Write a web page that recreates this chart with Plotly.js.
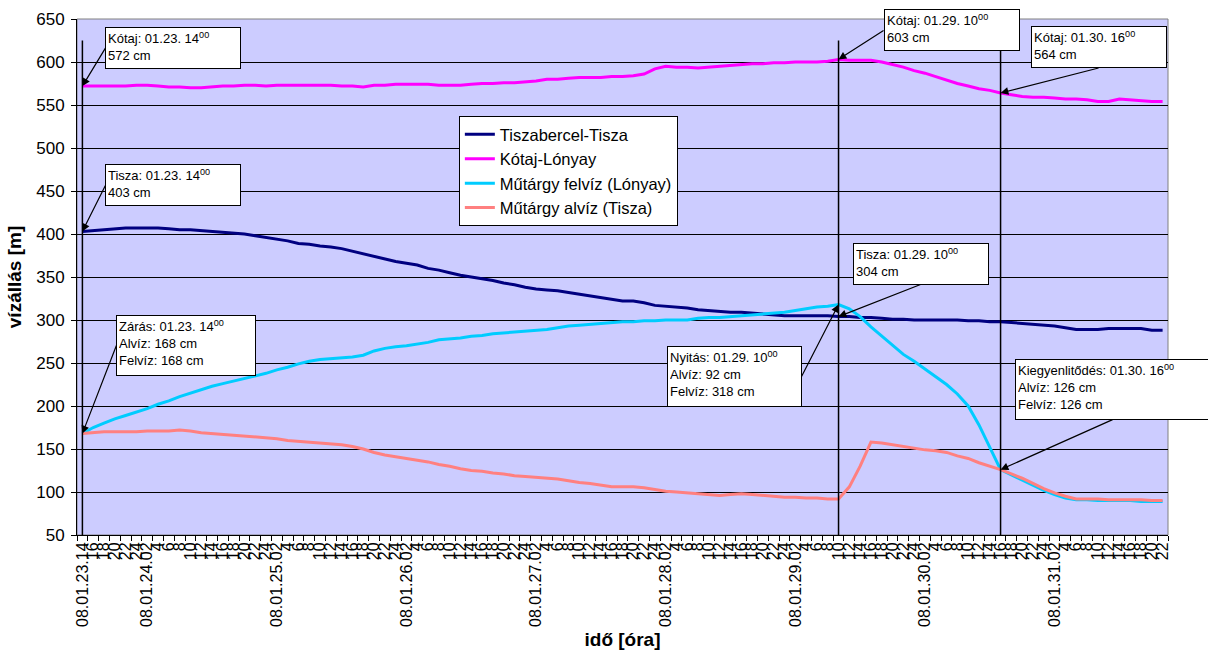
<!DOCTYPE html>
<html>
<head>
<meta charset="utf-8">
<script src="https://cdn.plot.ly/plotly-3.0.1.min.js"></script>
<style>
html,body{margin:0;padding:0;background:#ffffff;}
#chart{width:1208px;height:650px;}
</style>
</head>
<body>
<div id="chart"></div>
<script>
// ---- tick labels (one per 2-hour reading) ----
const tickLabels = [
  "08.01.23.14","16","18","20","22","24",
  "08.01.24.02","4","6","8","10","12","14","16","18","20","22","24",
  "08.01.25.02","4","6","8","10","12","14","16","18","20","22","24",
  "08.01.26.02","4","6","8","10","12","14","16","18","20","22","24",
  "08.01.27.02","4","6","8","10","12","14","16","18","20","22","24",
  "08.01.28.02","4","6","8","10","12","14","16","18","20","22","24",
  "08.01.29.02","4","6","8","10","12","14","16","18","20","22","24",
  "08.01.30.02","4","6","8","10","12","14","16","18","20","22","24",
  "08.01.31.02","4","6","8","10","12","14","16","18","20","22"
];

// unique category ids (day + hour) built from the tick labels
const categories = [];
(function(){
  let day = "23";
  tickLabels.forEach(function(t){
    let hour;
    if (t.indexOf("08.01.") === 0) { day = t.slice(6, 8); hour = t.slice(9); }
    else { hour = t; }
    categories.push("01." + day + " " + hour + "h");
  });
})();

// ---- series values [cm] ----
const tiszabercel = [
  403,404,405,406,407,407,407,407,406,405,
  405,404,403,402,401,400,398,396,394,392,
  389,388,386,385,383,380,377,374,371,368,
  366,364,360,358,355,352,350,348,346,343,
  341,338,336,335,334,332,330,328,326,324,
  322,322,320,317,316,315,314,312,311,310,
  309,309,308,307,306,305,305,305,305,305,
  304,304,303,303,302,301,301,300,300,300,
  300,300,299,299,298,298,297,296,295,294,
  293,291,289,289,289,290,290,290,290,288,
  288
];
const kotaj = [
  572,572,572,572,572,573,573,572,571,571,
  570,570,571,572,572,573,573,572,573,573,
  573,573,573,573,572,572,571,573,573,574,
  574,574,574,573,573,573,574,575,575,576,
  576,577,578,580,580,581,582,582,582,583,
  583,584,586,592,595,594,594,593,594,595,
  596,597,598,598,599,599,600,600,600,601,
  603,602,602,602,600,597,594,590,587,583,
  579,575,572,569,567,564,562,560,559,559,
  558,557,557,556,554,554,557,556,555,554,
  554
];
const felviz = [
  168,175,180,185,189,193,197,202,206,211,
  215,219,223,226,229,232,235,238,242,245,
  249,252,254,255,256,257,259,264,267,269,
  270,272,274,277,278,279,281,282,284,285,
  286,287,288,289,291,293,294,295,296,297,
  298,298,299,299,300,300,300,302,303,303,
  304,305,306,307,308,309,311,313,315,316,
  318,313,304,292,281,270,260,252,243,235,
  225,214,200,178,152,126,120,114,108,102,
  97,93,91,91,90,90,90,90,89,89,
  89
];
const alviz = [
  168,169,170,170,170,170,171,171,171,172,
  171,169,168,167,166,165,164,163,162,160,
  159,158,157,156,155,153,150,146,143,141,
  139,137,135,132,130,127,125,124,122,121,
  119,118,117,116,115,113,111,110,108,106,
  106,106,105,103,101,100,99,98,97,96,
  97,98,97,96,95,94,94,93,93,92,
  92,106,130,158,157,155,153,151,149,148,
  146,142,139,134,130,126,121,116,110,104,
  99,95,92,92,92,91,91,91,91,90,
  90
];

const seriesNames = ["Tiszabercel-Tisza", "Kótaj-Lónyay", "Műtárgy felvíz (Lónyay)", "Műtárgy alvíz (Tisza)"];
const seriesColors = ["#000080", "#FF00FF", "#00CCFF", "#FF8080"];
const seriesData = [tiszabercel, kotaj, felviz, alviz];

// event moments (closing, opening, equalisation)
const eventIdx = [0, 70, 85];
const eventTimes = ["01.23. 14", "01.29. 10", "01.30. 16"];

const FONT = "Liberation Sans, Arial, sans-serif";

const traces = seriesData.map(function(vals, k){
  return {
    type: "scatter", mode: "lines",
    x: categories, y: vals, name: seriesNames[k],
    line: {color: seriesColors[k], width: 3}
  };
});

// plot border + vertical event lines
const shapes = [{
  type: "rect", xref: "paper", yref: "paper", x0: 0, x1: 1, y0: 0, y1: 1,
  line: {color: "#808080", width: 1}, fillcolor: "rgba(0,0,0,0)", layer: "below"
}];
eventIdx.forEach(function(i){
  shapes.push({
    type: "line", xref: "x", yref: "y",
    x0: categories[i], x1: categories[i], y0: 50, y1: 625,
    line: {color: "#000000", width: 1.5}, layer: "above"
  });
});

function sup(t){ return t + "<sup>00</sup>"; }

const notes = [
  {i: 0,  y: kotaj[0],        text: "Kótaj: " + sup(eventTimes[0]) + "<br>" + kotaj[0] + " cm",
   ax: 23, ay: -38, xa: "left", ya: "middle", w: 130, h: 36},
  {i: 0,  y: tiszabercel[0],  text: "Tisza: " + sup(eventTimes[0]) + "<br>" + tiszabercel[0] + " cm",
   ax: 23, ay: -46, xa: "left", ya: "middle", w: 130, h: 36},
  {i: 0,  y: alviz[0],        text: "Zárás: " + sup(eventTimes[0]) + "<br>Alvíz: " + alviz[0] + " cm<br>Felvíz: " + felviz[0] + " cm",
   ax: 34, ay: -88, xa: "left", ya: "middle", w: 134, h: 55},
  {i: 70, y: kotaj[70],       text: "Kótaj: " + sup(eventTimes[1]) + "<br>" + kotaj[70] + " cm",
   ax: 45, ay: -29, xa: "left", ya: "middle", w: 130, h: 36},
  {i: 85, y: kotaj[85],       text: "Kótaj: " + sup(eventTimes[2]) + "<br>" + kotaj[85] + " cm",
   ax: 98, ay: -25, xa: "center", ya: "bottom", w: 130, h: 36},
  {i: 70, y: tiszabercel[70], text: "Tisza: " + sup(eventTimes[1]) + "<br>" + tiszabercel[70] + " cm",
   ax: 82, ay: -32, xa: "center", ya: "bottom", w: 130, h: 36},
  {i: 70, y: felviz[70],      text: "Nyitás: " + sup(eventTimes[1]) + "<br>Alvíz: " + alviz[70] + " cm<br>Felvíz: " + felviz[70] + " cm",
   ax: -37, ay: 72, xa: "right", ya: "middle", w: 129, h: 55},
  {i: 85, y: alviz[85],       text: "Kiegyenlitődés: " + sup(eventTimes[2]) + "<br>Alvíz: " + alviz[85] + " cm<br>Felvíz: " + felviz[85] + " cm",
   ax: 112, ay: -50, xa: "center", ya: "bottom", w: 190, h: 55}
];

const annotations = notes.map(function(n){
  return {
    xref: "x", yref: "y", x: categories[n.i], y: n.y,
    text: n.text, showarrow: true, ax: n.ax, ay: n.ay,
    xanchor: n.xa, yanchor: n.ya, align: "left", valign: "top",
    width: n.w, height: n.h,
    bgcolor: "#ffffff", bordercolor: "#000000", borderwidth: 1, borderpad: 2,
    font: {family: FONT, size: 13, color: "#000000"},
    arrowcolor: "#000000", arrowwidth: 1.2, arrowhead: 2, arrowsize: 1.3
  };
});

const layout = {
  width: 1208, height: 650,
  paper_bgcolor: "#ffffff", plot_bgcolor: "#CCCCFF",
  margin: {l: 77, r: 40, t: 19, b: 115, pad: 0},
  font: {family: FONT, color: "#000000"},
  showlegend: true,
  legend: {
    x: 0.35, y: 0.812, xanchor: "left", yanchor: "top",
    bgcolor: "#ffffff", bordercolor: "#000000", borderwidth: 1,
    font: {family: FONT, size: 16.5, color: "#000000"},
    tracegroupgap: 0
  },
  xaxis: {
    type: "category", categoryorder: "array", categoryarray: categories,
    range: [-0.5, categories.length - 0.5],
    tickmode: "array", tickvals: categories, ticktext: tickLabels,
    tickangle: -90, tickson: "boundaries",
    tickfont: {family: FONT, size: 16, color: "#000000"},
    ticks: "outside", ticklen: 5, tickcolor: "#000000",
    showline: true, linecolor: "#000000", linewidth: 1,
    showgrid: false, zeroline: false, fixedrange: true,
    title: {text: "<b>idő [óra]</b>", font: {family: FONT, size: 19, color: "#000000"}, standoff: 14}
  },
  yaxis: {
    range: [50, 650], tick0: 50, dtick: 50,
    ticks: "outside", ticklen: 5, tickcolor: "#000000",
    tickfont: {family: FONT, size: 17, color: "#000000"},
    ticklabelstandoff: 3,
    showline: true, linecolor: "#000000", linewidth: 1,
    showgrid: true, gridcolor: "#000000", gridwidth: 1,
    zeroline: false, fixedrange: true,
    title: {text: "<b>vízállás [m]</b>", font: {family: FONT, size: 19, color: "#000000"}, standoff: 9}
  },
  shapes: shapes,
  annotations: annotations
};

Plotly.newPlot("chart", traces, layout, {staticPlot: true, displayModeBar: false});
</script>
</body>
</html>
